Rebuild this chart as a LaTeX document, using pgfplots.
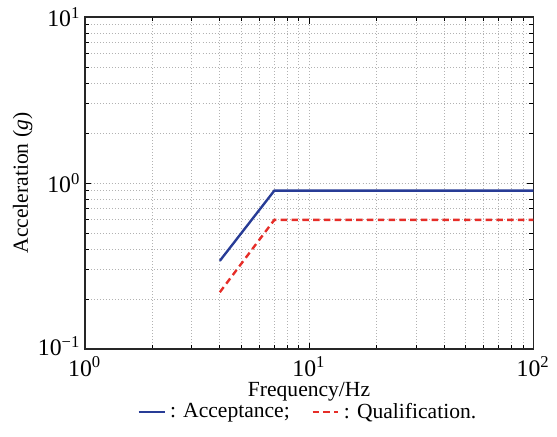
\documentclass[border=0pt]{standalone}
\usepackage{fontspec}
\setmainfont{Liberation Serif}
\usepackage{pgfplots}
\pgfplotsset{compat=1.18}
\definecolor{accblue}{RGB}{40,60,150}
\definecolor{qualred}{RGB}{230,45,40}
\begin{document}
\begin{tikzpicture}
\begin{loglogaxis}[
  scale only axis,
  width=208pt, height=154pt,
  xmin=1, xmax=100, ymin=0.1, ymax=10,
  xtick={1,10,100}, ytick={0.1,1,10},
  xticklabels={10\textsuperscript{0},10\textsuperscript{1},10\textsuperscript{2}},
  yticklabels={\raisebox{3pt}{10\textsuperscript{−1}},10\textsuperscript{0},10\textsuperscript{1}},
  ticklabel style={font=\fontsize{11}{13}\selectfont},
  yticklabel style={xshift=1.5pt},
  grid=both,
  major grid style={gray!60, densely dotted, line width=0.4pt},
  minor grid style={gray!60, densely dotted, line width=0.4pt},
  tick align=inside,
  tick style={black, line width=0.4pt},
  major tick length=3pt, minor tick length=2pt,
  axis line style={line width=0.7pt, black!85},
  xlabel={Frequency/Hz},
  ylabel={Acceleration (\textit{g})},
  xlabel style={yshift=4pt},
  ylabel style={inner ysep=6pt, yshift=-7pt},
  legend columns=2,
  legend style={draw=none, fill=none, at={(0.5,-0.115)}, anchor=north,
    inner xsep=1pt, inner ysep=5pt,
    /tikz/every even column/.append style={column sep=8pt}},
  legend cell align=left,
  legend image code/.code={\draw[#1] plot coordinates {(0pt,0pt) (12pt,0pt)};},
]
\addplot[accblue, line width=1.1pt] coordinates {(4,0.34) (7,0.9) (100,0.9)};
\addlegendentry{: Acceptance;}
\addplot[qualred, line width=1.1pt, dash pattern=on 3pt off 2pt] coordinates {(4,0.22) (7,0.6) (100,0.6)};
\addlegendentry{: Qualification.}
\end{loglogaxis}
\end{tikzpicture}
\end{document}
